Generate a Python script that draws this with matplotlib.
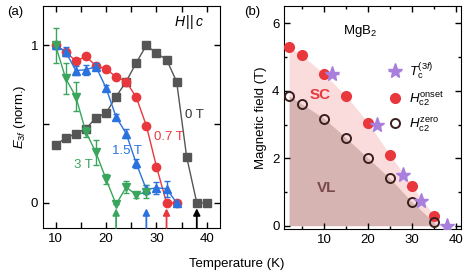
import numpy as np
import matplotlib
matplotlib.use("Agg")
import matplotlib.pyplot as plt
from matplotlib.ticker import MultipleLocator

plt.rcParams['font.family'] = ['Liberation Sans', 'DejaVu Sans']
plt.rcParams['mathtext.fontset'] = 'custom'
plt.rcParams['mathtext.rm'] = 'Liberation Sans'
plt.rcParams['mathtext.it'] = 'Liberation Sans:italic'
plt.rcParams['font.size'] = 9.5

# ---- panel (a) data ----
T0 = [10, 12, 14, 16, 18, 20, 22, 24, 26, 28, 30, 32, 34, 36, 38, 40]
E0 = [0.37, 0.41, 0.44, 0.47, 0.54, 0.57, 0.675, 0.77, 0.89, 1.0, 0.95, 0.91, 0.77, 0.29, 0.0, 0.0]

T07 = [10, 12, 14, 16, 18, 20, 22, 24, 26, 28, 30, 32, 34]
E07 = [1.0, 0.96, 0.90, 0.93, 0.87, 0.85, 0.80, 0.77, 0.67, 0.49, 0.23, 0.0, 0.0]

T15 = [10, 12, 14, 16, 18, 20, 22, 24, 26, 28, 30, 32, 34]
E15 = [1.0, 0.96, 0.84, 0.845, 0.865, 0.73, 0.545, 0.44, 0.25, 0.085, 0.095, 0.09, 0.0]
err15 = [0.02, 0.03, 0.03, 0.03, 0.02, 0.02, 0.02, 0.03, 0.03, 0.03, 0.04, 0.05, 0.0]

T3 = [10, 12, 14, 16, 18, 20, 22, 24, 26, 28]
E3 = [1.0, 0.79, 0.675, 0.45, 0.32, 0.15, -0.01, 0.10, 0.05, 0.07]
err3 = [0.11, 0.10, 0.09, 0.03, 0.08, 0.03, 0.0, 0.04, 0.02, 0.04]

arrow_T = [22, 28, 32, 38]
arrow_colors = ['#3aa55c', '#2a72de', '#e8383d', 'black']

# ---- panel (b) data ----
T_onset = [2, 5, 10, 15, 20, 25, 30, 35]
H_onset = [5.3, 5.05, 4.5, 3.85, 3.05, 2.1, 1.18, 0.3]
T_zero = [2, 5, 10, 15, 20, 25, 30, 35]
H_zero = [3.85, 3.6, 3.18, 2.6, 2.0, 1.4, 0.7, 0.1]
T_3f = [11.8, 22, 28, 32, 38]
H_3f = [4.5, 3.0, 1.5, 0.72, 0.0]
T_3f_err = [1.5, 0, 0, 0, 0]

gray = '#555555'
red = '#e8383d'
blue = '#2a72de'
green = '#3aa55c'

fig = plt.figure(figsize=(4.74, 2.76), dpi=100)
ax1 = fig.add_axes([0.0907, 0.1739, 0.3734, 0.8043])
ax2 = fig.add_axes([0.5998, 0.1714, 0.3722, 0.807])

ax1.plot(T0, E0, '-', color=gray, lw=1)
ax1.plot(T0, E0, 's', color=gray, ms=5.5)
ax1.plot(T07, E07, '-o', color=red, lw=1, ms=6)
ax1.errorbar(T15, E15, yerr=err15, fmt='-^', color=blue, lw=1, ms=6, capsize=2.5, elinewidth=1)
ax1.errorbar(T3, E3, yerr=err3, fmt='-v', color=green, lw=1, ms=6, capsize=2.5, elinewidth=1)

for t, c in zip(arrow_T, arrow_colors):
    ax1.annotate('', xy=(t, -0.035), xytext=(t, -0.16),
                 arrowprops=dict(arrowstyle='-|>', color=c, lw=1.3, mutation_scale=10,
                                 shrinkA=0, shrinkB=0))

ax1.text(35.7, 0.54, '0 T', color='#333333')
ax1.text(29.5, 0.40, '0.7 T', color=red)
ax1.text(21.2, 0.31, '1.5 T', color=blue)
ax1.text(13.7, 0.22, '3 T', color=green)
ax1.text(33.5, 1.12, r'$H\,||\,c$', color='black', fontsize=10)

ax1.set_xlim(7.5, 42.6)
ax1.set_ylim(-0.16, 1.25)
ax1.xaxis.set_major_locator(MultipleLocator(10))
ax1.xaxis.set_minor_locator(MultipleLocator(5))
ax1.yaxis.set_major_locator(MultipleLocator(1))
ax1.yaxis.set_minor_locator(MultipleLocator(0.5))
ax1.tick_params(which='both', direction='in', top=True, right=True, length=4, width=1)
ax1.set_ylabel(r'$E_{3f}$ (norm.)', labelpad=2)

# ---- panel (b) ----
ax2.fill_between(T_onset + [36.3], H_onset + [0], 0, color='#fbdcdc', lw=0)
ax2.fill_between(T_zero + [35.6], H_zero + [0], 0, color='#d6b4b2', lw=0)
h_star = ax2.errorbar(T_3f, H_3f, xerr=T_3f_err, fmt='*', color='#a87fdc', ms=11, capsize=0,
                      elinewidth=1, zorder=4)
h_on, = ax2.plot(T_onset, H_onset, 'o', color=red, ms=7, zorder=3)
h_zero, = ax2.plot(T_zero, H_zero, 'o', mfc='none', mec='#3b1f1f', mew=1.4, ms=6.5, zorder=3)

ax2.text(14.2, 5.7, r'MgB$_2$')
ax2.text(9, 3.75, 'SC', color=red, fontsize=11, fontweight='bold', ha='center')
ax2.text(10.5, 1.0, 'VL', color='#7a4a4a', fontsize=11, fontweight='bold', ha='center')

ax2.legend([h_star, h_on, h_zero],
           [r'$T_\mathrm{c}^{(3f)}$', r'$H_\mathrm{c2}^\mathrm{onset}$', r'$H_\mathrm{c2}^\mathrm{zero}$'],
           loc='upper left', bbox_to_anchor=(0.55, 0.78), frameon=False, handlelength=1,
           handletextpad=0.6, labelspacing=0.55, borderpad=0, fontsize=9.5)

ax2.set_xlim(0.9, 41.1)
ax2.set_ylim(-0.09, 6.52)
ax2.xaxis.set_major_locator(MultipleLocator(10))
ax2.xaxis.set_minor_locator(MultipleLocator(5))
ax2.yaxis.set_major_locator(MultipleLocator(2))
ax2.yaxis.set_minor_locator(MultipleLocator(1))
ax2.tick_params(which='major', direction='in', top=True, right=True, length=4, width=1)
ax2.tick_params(which='minor', direction='in', top=True, right=True, length=2.5, width=1)
ax2.set_ylabel('Magnetic field (T)', labelpad=4)

fig.text(0.5, 0.045, 'Temperature (K)', ha='center', va='center')
fig.text(0.015, 0.955, '(a)', ha='left', va='center')
fig.text(0.515, 0.955, '(b)', ha='left', va='center')

fig.savefig('out.png', dpi=100)
